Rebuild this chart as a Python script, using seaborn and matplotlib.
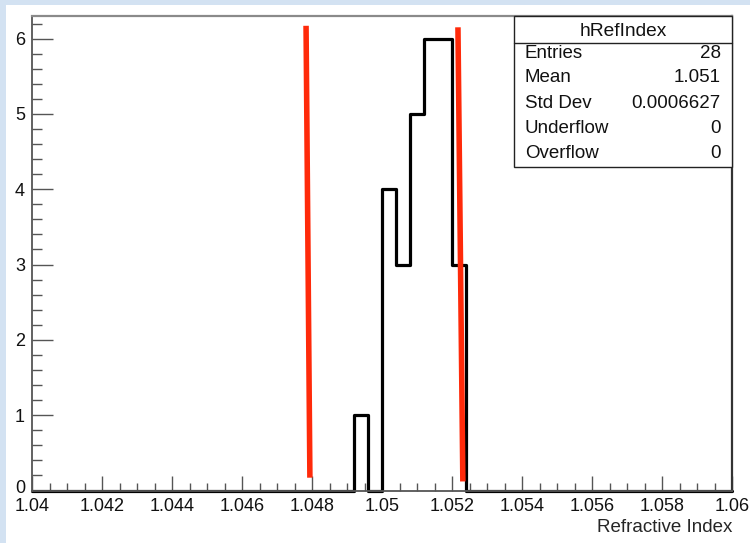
import numpy as np
import pandas as pd
import matplotlib
matplotlib.use("Agg")
import matplotlib.pyplot as plt
import seaborn as sns
from matplotlib.patches import Rectangle
from matplotlib.lines import Line2D
from matplotlib.ticker import MultipleLocator
from matplotlib.transforms import ScaledTranslation

# ---- data ----
bin_centers = [1.0494, 1.0502, 1.0506, 1.0510, 1.0514, 1.0518, 1.0522]
counts = [1, 4, 3, 5, 6, 6, 3]
x_lo, x_hi, n_bins = 1.04, 1.06, 50

cut_low_x = [1.04783, 1.04794]
cut_low_y = [6.17, 0.17]
cut_high_x = [1.05217, 1.05231]
cut_high_y = [6.15, 0.12]

x_ticks = [1.04, 1.042, 1.044, 1.046, 1.048, 1.05, 1.052, 1.054, 1.056, 1.058, 1.06]
x_tick_labels = ["1.04", "1.042", "1.044", "1.046", "1.048", "1.05", "1.052",
                 "1.054", "1.056", "1.058", "1.06"]
y_ticks = [0, 1, 2, 3, 4, 5, 6]

stats_title = "hRefIndex"
stats_names = ["Entries", "Mean", "Std Dev", "Underflow", "Overflow"]
stats_values = ["28", "1.051", "0.0006627", "0", "0"]

# ---- style ----
sns.set_theme(style="ticks")
plt.rcParams["font.family"] = ["Liberation Sans", "DejaVu Sans"]

W, H = 750, 543
fig = plt.figure(figsize=(W / 100, H / 100), dpi=100)
fig.patch.set_facecolor("white")

def fx(px):
    return px / W

def fy(py):
    return 1 - py / H

# light blue screenshot border (top and left)
blue = "#d3e2f2"
fig.patches.append(Rectangle((0, fy(5)), 1, 5 / H, transform=fig.transFigure,
                             facecolor=blue, edgecolor="none", zorder=0))
fig.patches.append(Rectangle((0, 0), 6 / W, 1, transform=fig.transFigure,
                             facecolor=blue, edgecolor="none", zorder=0))

ax_l, ax_r, ax_t, ax_b = 32, 732, 16, 490.5
ax = fig.add_axes([fx(ax_l), fy(ax_b), (ax_r - ax_l) / W, (ax_b - ax_t) / H])
ax.set_facecolor("white")

df = pd.DataFrame({"ri": bin_centers, "n": counts})
sns.histplot(data=df, x="ri", weights="n", bins=n_bins, binrange=(x_lo, x_hi),
             element="step", fill=False, color="black", linewidth=2.3, ax=ax)
for ln in ax.lines:
    ln.set_clip_on(False)

ax.plot(cut_low_x, cut_low_y, color="#ff2a0a", linewidth=4.0, solid_capstyle="butt", zorder=5)
ax.plot(cut_high_x, cut_high_y, color="#ff2a0a", linewidth=4.0, solid_capstyle="butt", zorder=5)

ax.set_xlim(x_lo, x_hi)
ax.set_ylim(0, 6.3)
ax.set_xticks(x_ticks)
ax.set_xticklabels(x_tick_labels)
ax.set_yticks(y_ticks)
ax.xaxis.set_minor_locator(MultipleLocator(0.0005))
ax.yaxis.set_minor_locator(MultipleLocator(0.2))
ax.set_ylabel("")
ax.set_xlabel("Refractive Index", loc="right", fontsize=13.5, labelpad=3)

spine_c = "#555555"
for s in ["left", "bottom", "top", "right"]:
    ax.spines[s].set_visible(True)
    ax.spines[s].set_color(spine_c)
ax.spines["left"].set_linewidth(1.3)
ax.spines["bottom"].set_linewidth(1.3)
ax.spines["top"].set_linewidth(1.6)
ax.spines["top"].set_color("#8a8a8a")
ax.spines["right"].set_linewidth(1.6)
ax.spines["right"].set_color("#333333")

ax.tick_params(axis="x", which="major", direction="in", length=11, width=1.0,
               color=spine_c, labelsize=13, pad=5.5, top=False)
ax.tick_params(axis="x", which="minor", direction="in", length=5.5, width=1.0,
               color=spine_c, top=False)
ax.tick_params(axis="y", which="major", direction="in", length=15, width=1.0,
               color=spine_c, labelsize=13, pad=5, right=False)
ax.tick_params(axis="y", which="minor", direction="in", length=7.5, width=1.0,
               color=spine_c, right=False)
for lab in ax.get_xticklabels() + ax.get_yticklabels():
    lab.set_color("#111111")

# nudge the "0" y label up a little so it sits above "1.04"
zero_lab = ax.get_yticklabels()[0]
zero_lab.set_transform(zero_lab.get_transform() +
                       ScaledTranslation(0, 3 / 72, fig.dpi_scale_trans))

# ---- stats box ----
bx_l, bx_r, bx_t, bx_b = 514, 732, 16, 167
fig.patches.append(Rectangle((fx(bx_l), fy(bx_b)), (bx_r - bx_l) / W, (bx_b - bx_t) / H,
                             transform=fig.transFigure, facecolor="white",
                             edgecolor="#222222", linewidth=1.0, zorder=10))
fig.lines.append(Line2D([fx(bx_l), fx(bx_r)], [fy(43), fy(43)], transform=fig.transFigure,
                        color="#222222", linewidth=1.0, zorder=11))
fig.text(fx((bx_l + bx_r) / 2), fy(31), stats_title, ha="center", va="center",
         fontsize=13.8, color="#111111", zorder=12)
row_y = [54, 78, 103, 128, 153]
for yy, name, val in zip(row_y, stats_names, stats_values):
    fig.text(fx(525), fy(yy), name, ha="left", va="center", fontsize=13.5,
             color="#111111", zorder=12)
    fig.text(fx(721), fy(yy), val, ha="right", va="center", fontsize=13.5,
             color="#111111", zorder=12)

fig.savefig("out.png", dpi=100, facecolor=fig.get_facecolor())
